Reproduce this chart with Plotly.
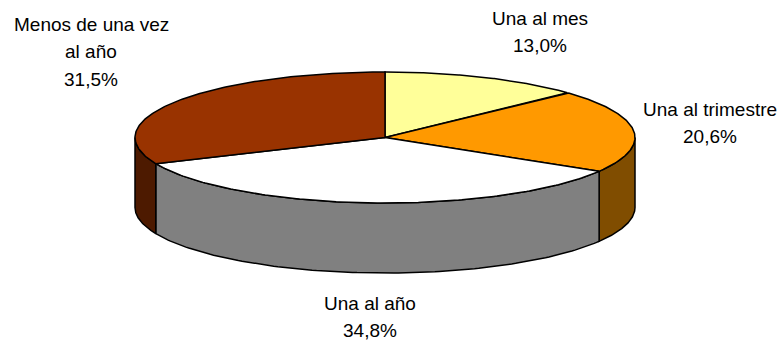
import numpy as np
import plotly.graph_objects as go

categories = ["Una al mes", "Una al trimestre", "Una al año", "Menos de una vez\nal año"]
values = [13.0, 20.6, 34.8, 31.5]
value_labels = ["13,0%", "20,6%", "34,8%", "31,5%"]
top_colors = ["#FFFF99", "#FF9900", "#FFFFFF", "#993300"]
side_colors = ["#808040", "#804D00", "#808080", "#4D1A00"]

CX, CY, RX, RY, DEPTH = 385, 137.5, 250, 65.5, 70
label_x = [540, 710, 369.5, 91]
label_first_y = [18.5, 109.5, 303.5, 24.5]
LINE_STEP = 27.3


def ell(t):
    return CX + RX * np.sin(t), CY - RY * np.cos(t)


fig = go.Figure()
total = sum(values)
fracs = np.cumsum([0] + values) / total * 2 * np.pi
line = dict(color="black", width=1.5)

for i in range(len(values)):
    a, b = max(fracs[i], np.pi / 2), min(fracs[i + 1], 3 * np.pi / 2)
    if a >= b:
        continue
    t = np.linspace(a, b, 120)
    x, y = ell(t)
    fig.add_trace(go.Scatter(
        x=np.r_[x, x[::-1], x[0]], y=np.r_[y, (y + DEPTH)[::-1], y[0]],
        mode="lines", fill="toself", fillcolor=side_colors[i], line=line, hoverinfo="skip"))

for i in range(len(values)):
    t = np.linspace(fracs[i], fracs[i + 1], 160)
    x, y = ell(t)
    fig.add_trace(go.Scatter(
        x=np.r_[CX, x, CX], y=np.r_[CY, y, CY],
        mode="lines", fill="toself", fillcolor=top_colors[i], line=line, hoverinfo="skip"))

for c, v, lx, ly in zip(categories, value_labels, label_x, label_first_y):
    for k, text in enumerate(c.split("\n") + [v]):
        fig.add_annotation(x=lx, y=ly + k * LINE_STEP, text=text, showarrow=False,
                           xanchor="center", yanchor="middle",
                           font=dict(family="Liberation Sans", size=19, color="black"))

fig.update_layout(
    width=784, height=340, margin=dict(l=0, r=0, t=0, b=0), showlegend=False,
    paper_bgcolor="white", plot_bgcolor="white",
    xaxis=dict(range=[0, 784], visible=False, fixedrange=True),
    yaxis=dict(range=[340, 0], visible=False, fixedrange=True),
)
fig.write_html("out.html", post_script="document.body.style.margin='0';",
               config={"displayModeBar": False})
